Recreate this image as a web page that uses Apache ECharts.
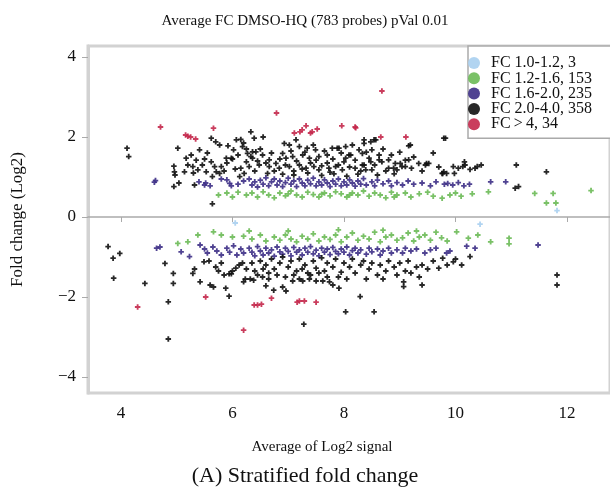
<!DOCTYPE html>
<html><head><meta charset="utf-8">
<script src="https://cdn.jsdelivr.net/npm/echarts@6/dist/echarts.min.js"></script>
<style>html,body{margin:0;padding:0;background:#fff;overflow:hidden}#c{width:610px;height:492px}</style>
</head><body><div id="c"></div>
<script>
const seriesNames = ['FC 1.0-1.2, 3', 'FC 1.2-1.6, 153', 'FC 1.6-2.0, 235', 'FC 2.0-4.0, 358', 'FC\u2009>\u20094, 34'];
const xTicks = [4, 6, 8, 10, 12];
const yTicks = [-4, -2, 0, 2, 4];

const fcBlue = [[6.05,-0.15],[10.44,-0.18],[11.82,0.16]];

const fcRed = [[4.71,2.25],[5.16,2.05],[5.25,2.0],[5.34,1.95],[5.66,2.22],[6.79,2.6],[7.11,2.1],[7.21,2.13],[7.32,2.28],[7.43,2.13],[7.52,2.2],[7.96,2.28],[8.21,2.23],[8.68,3.15],[8.66,2.0],[9.11,2.0],[7.25,2.18],[5.2,2.02],[8.2,2.25],[7.4,2.1],
[4.3,-2.25],[5.52,-2.0],[6.2,-2.83],[6.39,-2.2],[6.52,-2.18],[6.7,-2.03],[7.16,-2.13],[7.29,-2.1],[7.5,-2.13],[6.45,-2.2],[7.2,-2.1]];

const fcBlack = [[4.11,1.72],[4.14,1.51],[4.95,0.76],[5.04,0.85],[5.32,0.8],[5.64,0.33],[5.02,1.72],[4.95,1.27],[4.96,1.13],[4.97,1.05],
[5.17,1.47],[5.26,1.55],[5.35,1.42],[5.2,1.3],[5.29,1.26],[5.41,1.68],[5.14,1.13],[5.38,1.18],[5.46,1.3],[5.53,1.13],
[5.62,1.38],[5.68,1.26],[5.71,1.13],[5.8,1.26],[5.77,1.09],[5.64,1.01],[5.62,1.97],[5.7,1.88],[5.77,1.8],[5.89,1.47],
[5.98,1.47],[6.07,1.93],[6.15,1.94],[6.18,1.76],[6.27,1.59],[6.36,1.63],[6.33,1.51],[6.25,1.38],[6.15,1.22],[6.21,1.09],[6.13,1.01],
[6.33,2.13],[6.39,1.97],[6.55,2.0],[6.93,1.84],[7.02,1.8],[7.14,1.93],[7.2,1.76],[7.34,1.72],[7.49,1.68],[7.79,1.72],[7.88,1.72],[8.36,1.93],[8.54,1.93],[9.16,1.78],[9.79,1.97],
[6.42,1.63],[6.36,1.47],[6.54,1.55],[6.66,1.43],[6.9,1.59],[6.96,1.47],[7.08,1.51],[7.26,1.55],[7.38,1.47],[7.55,1.51],[7.7,1.55],[8.03,1.47],[8.09,1.55],[8.33,1.59],[8.45,1.47],[8.63,1.55],[8.68,1.38],[8.92,1.34],[9.1,1.42],[9.34,1.34],[9.48,1.34],
[6.3,1.26],[6.48,1.3],[6.66,1.26],[6.78,1.34],[6.84,1.22],[7.02,1.26],[7.2,1.3],[7.32,1.22],[7.46,1.26],[7.55,1.18],[7.73,1.22],[7.85,1.26],[7.97,1.18],[8.2,1.22],[8.36,1.3],[8.5,1.18],[8.8,1.22],[8.95,1.18],[9.04,1.26],[9.21,1.22],[9.76,1.09],
[6.63,1.09],[6.9,1.07],[7.1,1.05],[7.35,1.1],[7.6,1.04],[7.82,1.08],[8.05,1.02],[8.25,1.07],[8.6,1.05],[8.9,1.08],
[7.91,1.72],[8.03,1.76],[8.12,1.55],[8.27,1.68],[8.36,1.84],[8.48,1.88],[8.57,1.93],[8.5,1.68],[8.63,1.43],[8.48,1.38],[8.33,1.3],[8.39,1.18],[8.8,1.43],[8.89,1.22],[9.01,1.34],[9.1,1.26],[9.16,1.43],[9.19,1.8],[9.46,1.3],[9.52,1.34],[9.79,1.13],[9.84,1.09],[9.96,1.26],[10.05,1.22],[10.17,1.3],[10.26,1.19],[10.35,1.22],[10.46,1.3],[11.09,1.3],[11.63,1.13],[11.13,0.76],[11.07,0.72],[9.82,1.97],
[9.77,1.09],[9.98,1.09],[10.13,1.26],[10.16,1.38],[10.39,1.26],
[6.5,1.7],[6.6,1.35],[6.7,1.6],[6.75,1.15],[6.85,1.45],[6.95,1.3],[7.05,1.65],[7.1,1.15],[7.15,1.4],[7.25,1.2],[7.3,1.62],[7.4,1.35],[7.45,1.8],[7.5,1.42],[7.6,1.28],[7.65,1.65],[7.7,1.35],[7.75,1.12],[7.8,1.45],[7.9,1.3],[7.95,1.6],[8.0,1.38],[8.1,1.25],[8.15,1.8],[8.2,1.42],[8.3,1.15],[8.4,1.62],[8.55,1.3],[8.7,1.7],[8.75,1.15],[8.85,1.55],[9.0,1.62],[9.25,1.5],[9.4,1.15],[9.6,1.6],[9.7,1.25],
[5.3,1.1],[5.5,1.45],[5.55,1.6],[5.85,1.15],[5.9,1.35],[6.0,1.45],[6.05,1.2],[6.1,1.55],[6.2,1.85],[6.25,1.7],[6.4,1.15],[6.45,1.4],[5.92,1.78],[6.02,1.68],
[3.77,-0.74],[3.86,-1.03],[3.98,-0.91],[3.87,-1.53],[4.43,-1.66],[4.79,-1.16],[4.94,-1.41],[4.94,-1.66],[4.85,-2.12],[4.85,-3.05],
[5.29,-1.41],[5.32,-1.3],[5.42,-1.62],[5.49,-1.12],[5.58,-1.1],[5.6,-1.7],[5.66,-1.75],[5.85,-1.45],[5.94,-1.42],[6.0,-1.35],[6.06,-1.28],[6.12,-1.2],[6.18,-1.15],[5.88,-1.78],[5.94,-1.98],[5.98,-1.42],[6.2,-1.62],[6.23,-1.55],[6.32,-1.55],[6.38,-1.58],[6.45,-1.45],[6.54,-1.5],[6.65,-1.55],[6.6,-1.72],[6.74,-1.83],[6.9,-1.75],[6.96,-1.85],[7.08,-1.6],[7.2,-1.55],[7.26,-1.6],[7.38,-1.55],[7.5,-1.6],[7.62,-1.6],[7.74,-1.62],[7.8,-1.7],
[6.5,-1.1],[6.6,-1.2],[6.7,-1.05],[6.75,-1.3],[6.85,-1.15],[6.9,-1.0],[7.0,-1.25],[7.05,-1.1],[7.15,-1.35],[7.2,-1.05],[7.3,-1.2],[7.35,-1.4],[7.45,-1.1],[7.5,-1.28],[7.6,-1.02],[7.65,-1.35],[7.7,-1.15],[7.8,-1.25],[7.85,-1.05],[7.95,-1.38],[8.0,-1.15],[8.05,-1.55],[8.1,-1.25],[8.15,-1.05],[8.2,-1.4],[8.3,-1.2],[8.35,-1.1],[8.45,-1.3],[8.5,-1.15],[8.6,-1.45],[8.65,-1.2],[8.75,-1.35],[8.8,-1.1],[8.9,-1.25],[9.0,-1.15],[9.1,-1.35],[9.15,-1.1],[9.2,-1.4],[9.3,-1.25],[9.4,-1.2],[9.5,-1.3],[9.6,-1.1],[9.7,-1.28],
[5.7,-1.25],[5.75,-1.35],[5.8,-1.15],[6.25,-1.3],[6.35,-1.15],[6.4,-1.35],[6.55,-1.3],[6.65,-1.4],[6.8,-1.45],[6.95,-1.5],[7.1,-1.45],[7.25,-1.3],[7.4,-1.45],[7.55,-1.4],[7.7,-1.5],[7.9,-1.5],
[7.91,-1.78],[8.29,-1.99],[8.03,-2.37],[8.54,-2.37],[9.07,-1.62],[9.07,-1.74],[9.4,-1.7],[11.82,-1.45],[11.82,-1.7],[7.28,-2.68],[9.77,-1.03],[9.96,-1.12],[10.11,-1.2],[10.26,-0.99],
[8.4,-1.55],[8.7,-1.55],[8.95,-1.45],[9.35,-1.5],[9.85,-1.2],[10.0,-1.05]];

const fcPurple = [[4.62,0.91],[4.6,0.87],[5.52,0.85],[5.5,0.8],[5.6,0.78],[5.9,0.93],[5.95,0.84],[5.98,0.78],[6.1,0.82],
[6.3,0.95],[6.35,0.8],[6.4,0.88],[6.45,0.75],[6.5,0.92],[6.55,0.82],[6.6,0.98],[6.65,0.78],[6.7,0.88],[6.75,0.95],[6.8,0.8],[6.85,0.9],[6.9,0.76],[6.95,0.86],[7.0,0.97],[7.05,0.82],[7.1,0.9],[7.15,0.76],[7.2,0.95],[7.25,0.85],[7.3,0.78],[7.35,0.92],[7.4,0.83],[7.45,0.97],[7.5,0.78],[7.55,0.88],[7.6,0.8],[7.65,0.93],[7.7,0.85],[7.75,0.76],[7.8,0.9],[7.85,0.82],[7.9,0.95],[7.95,0.78],[8.0,0.88],[8.05,0.8],[8.1,0.93],[8.15,0.85],[8.2,0.77],[8.25,0.9],[8.3,0.82],[8.35,0.96],[8.4,0.8],[8.5,0.88],[8.55,0.78],[8.6,0.92],[8.7,0.83],[8.8,0.9],[8.85,0.78],[8.95,0.86],[9.05,0.8],[9.15,0.9],[9.25,0.82],[9.4,0.85],[9.55,0.78],[9.65,0.88],[9.8,0.82],[9.86,0.84],[9.95,0.8],[10.05,0.86],[10.15,0.78],[10.25,0.82],[10.63,0.88],[10.9,0.88],[6.2,0.9],[5.8,0.95],[5.4,0.88],
[4.64,-0.78],[4.7,-0.75],[5.08,-0.87],[5.23,-0.99],[5.42,-0.7],[5.5,-0.8],[5.55,-0.9],[5.65,-0.75],[5.72,-0.85],[5.8,-0.95],[5.9,-0.78],[5.95,-0.88],[6.02,-0.72],[6.08,-0.95],[6.15,-0.8],[6.2,-0.9],
[6.3,-0.78],[6.35,-0.88],[6.4,-0.97],[6.45,-0.74],[6.5,-0.85],[6.55,-0.95],[6.6,-0.78],[6.65,-0.9],[6.7,-0.82],[6.75,-0.98],[6.8,-0.75],[6.85,-0.87],[6.9,-0.93],[6.95,-0.78],[7.0,-0.86],[7.05,-0.97],[7.1,-0.76],[7.15,-0.88],[7.2,-0.82],[7.25,-0.95],[7.3,-0.78],[7.35,-0.88],[7.4,-0.74],[7.45,-0.92],[7.5,-0.83],[7.55,-0.97],[7.6,-0.78],[7.65,-0.88],[7.7,-0.8],[7.75,-0.94],[7.8,-0.76],[7.85,-0.86],[7.9,-0.92],[7.95,-0.8],[8.0,-0.88],[8.05,-0.75],[8.1,-0.95],[8.15,-0.84],[8.2,-0.78],[8.25,-0.9],[8.3,-0.82],[8.4,-0.93],[8.45,-0.78],[8.5,-0.87],[8.6,-0.8],[8.65,-0.95],[8.7,-0.85],[8.8,-0.78],[8.85,-0.9],[8.95,-0.82],[9.05,-0.9],[9.1,-0.78],[9.2,-0.85],[9.3,-0.8],[9.45,-0.9],[9.55,-0.82],[9.65,-0.78],[9.84,-0.9],[9.9,-0.85],[10.2,-0.73],[10.35,-0.78],[11.48,-0.7]];

const fcGreen = [[5.75,0.55],[5.9,0.6],[6.0,0.5],[6.1,0.62],[6.25,0.55],[6.35,0.6],[6.45,0.5],[6.55,0.63],[6.65,0.55],[6.75,0.48],[6.85,0.6],[6.95,0.53],[7.05,0.65],[7.15,0.55],[7.25,0.5],[7.35,0.62],[7.45,0.56],[7.55,0.5],[7.65,0.6],[7.75,0.53],[7.85,0.63],[7.95,0.58],[8.05,0.5],[8.15,0.6],[8.25,0.55],[8.35,0.65],[8.45,0.52],[8.55,0.6],[8.65,0.55],[8.75,0.48],[8.85,0.62],[8.95,0.55],[9.1,0.6],[9.2,0.5],[9.35,0.58],[9.5,0.62],[9.6,0.52],[9.76,0.47],[9.9,0.55],[10.0,0.6],[10.1,0.52],[10.3,0.58],[10.59,0.63],[11.42,0.59],[11.75,0.59],[12.43,0.66],[11.63,0.35],[11.8,0.35],[7.0,0.58],[7.6,0.57],[8.1,0.55],[8.9,0.5],
[5.02,-0.66],[5.2,-0.62],[5.38,-0.45],[5.66,-0.37],[5.8,-0.45],[6.0,-0.5],[6.2,-0.48],[6.35,-0.55],[6.5,-0.45],[6.6,-0.6],[6.75,-0.5],[6.85,-0.58],[6.95,-0.45],[7.05,-0.55],[7.15,-0.62],[7.25,-0.48],[7.35,-0.55],[7.45,-0.42],[7.55,-0.6],[7.65,-0.5],[7.75,-0.56],[7.85,-0.45],[7.95,-0.62],[8.05,-0.5],[8.15,-0.4],[8.25,-0.58],[8.35,-0.48],[8.45,-0.55],[8.55,-0.38],[8.65,-0.62],[8.75,-0.5],[8.85,-0.45],[8.95,-0.58],[9.05,-0.52],[9.15,-0.4],[9.25,-0.6],[9.35,-0.5],[9.45,-0.45],[9.55,-0.58],[9.65,-0.38],[9.75,-0.52],[9.85,-0.6],[10.02,-0.37],[10.23,-0.53],[10.4,-0.45],[10.63,-0.62],[10.96,-0.53],[10.96,-0.67],[6.3,-0.35],[7.0,-0.35],[7.9,-0.32],[8.7,-0.33],[9.3,-0.35]];

const colors = ['#a9cff0', '#6cba56', '#3d2f86', '#111111', '#c4284b'];
const seriesData = [fcBlue, fcGreen, fcPurple, fcBlack, fcRed];

const serif = 'Liberation Serif';
const plus = 'path://M2,0H4V2H6V4H4V6H2V4H0V2H2Z';
const chart = echarts.init(document.getElementById('c'), null, {renderer: 'canvas'});

chart.setOption({
  animation: false,
  grid: {left: 88, top: 46, right: -2, bottom: 99, show: true, borderColor: '#d2d2d2', borderWidth: 3, backgroundColor: '#fff'},
  xAxis: {
    type: 'value', min: 3.41, max: 12.77,
    axisLine: {show: true, lineStyle: {color: '#aaa', width: 1.5}},
    axisTick: {show: true, customValues: xTicks, length: 5, lineStyle: {color: '#aaa'}},
    axisLabel: {customValues: xTicks, margin: 12, fontFamily: serif, fontSize: 17, color: '#111'},
    splitLine: {show: false}
  },
  yAxis: {
    type: 'value', min: -4.4, max: 4.275,
    name: 'Fold change (Log2)', nameLocation: 'middle', nameGap: 62, nameRotate: 90,
    nameTextStyle: {fontFamily: serif, fontSize: 17, color: '#111'},
    axisLine: {show: true, lineStyle: {color: '#d2d2d2', width: 3}},
    axisTick: {show: true, customValues: yTicks, length: 6, lineStyle: {color: '#aaa'}},
    axisLabel: {customValues: yTicks, margin: 12, fontFamily: serif, fontSize: 17, color: '#111',
      formatter: v => (v < 0 ? '\u2212' + Math.abs(v) : String(v))},
    splitLine: {show: false}
  },
  legend: {
    orient: 'vertical', left: 468, top: 46, icon: 'circle',
    itemWidth: 24, itemHeight: 12, itemGap: -0.7,
    padding: [9, 40, 6, 0],
    borderColor: '#aaa', borderWidth: 1.5, backgroundColor: '#fff',
    textStyle: {fontFamily: serif, fontSize: 16, color: '#111', lineHeight: 14},
    data: seriesNames
  },
  graphic: [
    {type: 'text', x: 305, y: 21, style: {text: 'Average FC DMSO-HQ (783 probes) pVal 0.01', font: '15px "Liberation Serif"', fill: '#111', textAlign: 'center', textVerticalAlign: 'middle'}},
    {type: 'text', x: 322, y: 447, style: {text: 'Average of Log2 signal', font: '15px "Liberation Serif"', fill: '#111', textAlign: 'center', textVerticalAlign: 'middle'}},
    {type: 'text', x: 305, y: 476, style: {text: '(A) Stratified fold change', font: '22px "Liberation Serif"', fill: '#111', textAlign: 'center', textVerticalAlign: 'middle'}}
  ],
  series: seriesNames.map((n, i) => ({
    name: n, type: 'scatter', data: seriesData[i], symbol: plus, symbolSize: 5.5,
    itemStyle: {color: colors[i], opacity: 0.9}
  }))
});
</script></body></html>
